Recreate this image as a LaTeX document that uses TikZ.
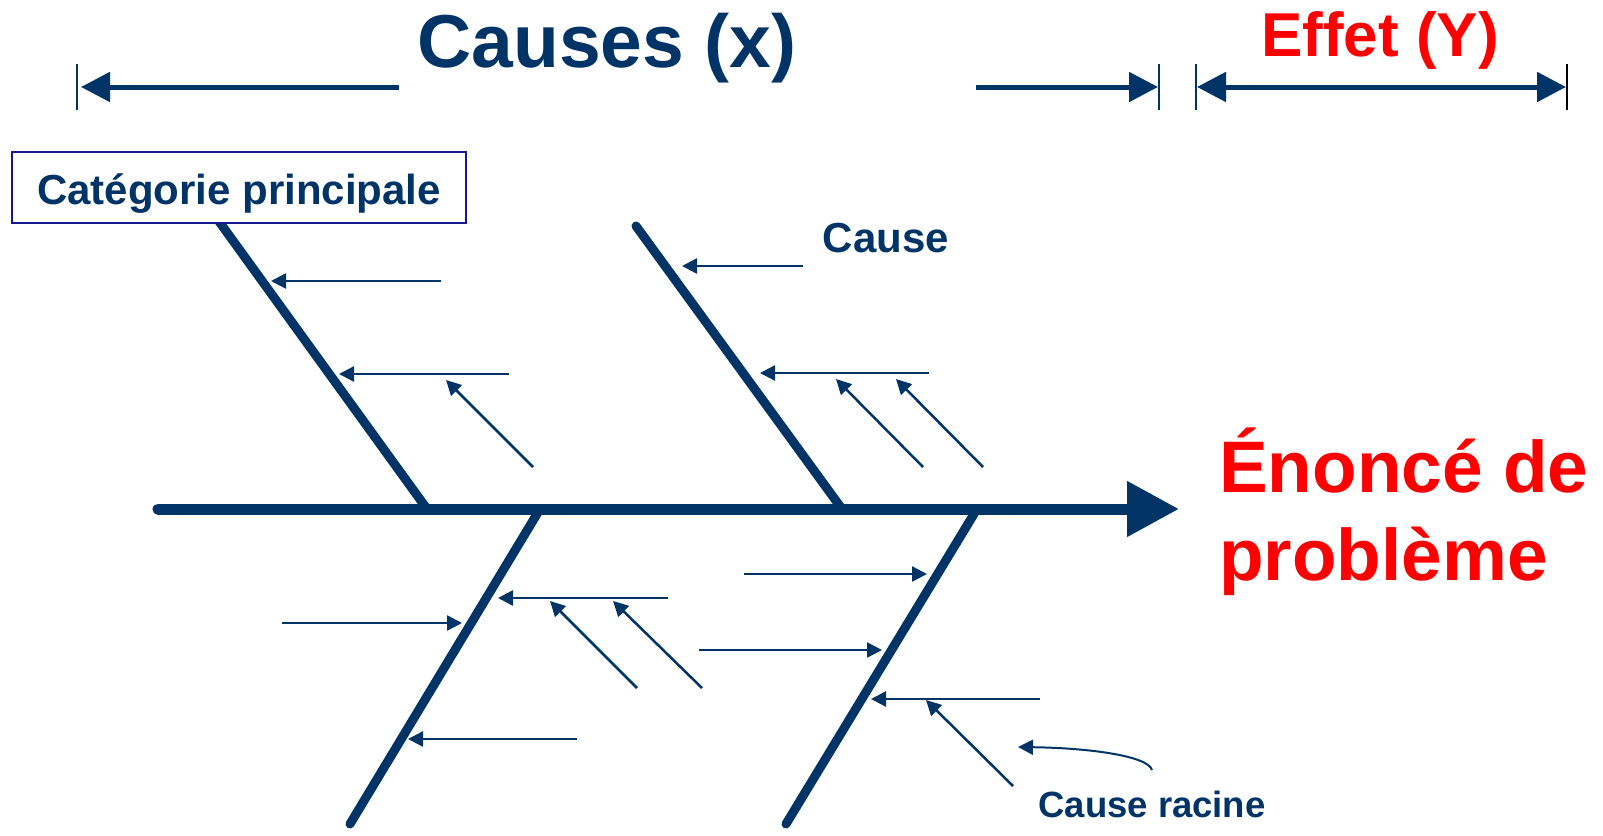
\documentclass[tikz,border=0pt]{standalone}
\usepackage{fontspec}
\setmainfont{Liberation Sans}
\usetikzlibrary{arrows.meta}
\definecolor{marine}{RGB}{0,51,102}
\definecolor{rouge}{RGB}{255,0,0}
\definecolor{cadre}{RGB}{24,24,140}
\begin{document}
\begin{tikzpicture}[
  x=1pt, y=-1pt,
  arete/.style={color=marine, line width=11pt, line cap=round, -{Triangle[length=52pt,width=53pt]}},
  os/.style={draw=marine, line width=9pt, line cap=round},
  fleche/.style={color=marine, line width=2.5pt, -{Triangle[length=15pt,width=15pt]}},
  cote/.style={color=marine, line width=5pt, >={Triangle[length=29pt,width=29pt]}},
  repere/.style={draw=marine, line width=2pt},
  titre/.style={inner sep=0pt, anchor=base, font=\bfseries\fontsize{75}{90}\selectfont},
  etiquette/.style={inner sep=0pt, anchor=base, text=marine, font=\bfseries\fontsize{42}{50}\selectfont}
]
\useasboundingbox (0,0) rectangle (1603,835);

% en-tete : causes et effet
\node[titre, text=marine] (causes) at (607,67) {Causes (x)};
\node[titre, text=rouge, font=\bfseries\fontsize{62}{74}\selectfont] (effet) at (1380,56) {Effet (Y)};
\foreach \n/\x in {1/77, 2/1159, 3/1196, 4/1567} {
  \coordinate (h\n) at (\x,64);
  \coordinate (b\n) at (\x,110);
}
\draw[repere] (h1) -- (b1);
\draw[repere] (h2) -- (b2);
\draw[repere] (h3) -- (b3);
\draw[repere, draw=black] (h4) -- (b4);
\coordinate (cg1) at (399,87);  \coordinate (cg2) at (81,87);
\coordinate (cd1) at (976,87);  \coordinate (cd2) at (1158,87);
\coordinate (ef1) at (1197,87); \coordinate (ef2) at (1566,87);
\draw[cote, ->] (cg1) -- (cg2);
\draw[cote, ->] (cd1) -- (cd2);
\draw[cote, <->] (ef1) -- (ef2);

% arete principale et os
\coordinate (queue) at (158,509);
\coordinate (tete) at (1179,509);
\draw[arete] (queue) -- (tete);
\coordinate (o1a) at (218,220); \coordinate (o1b) at (427,509);
\coordinate (o2a) at (636,226); \coordinate (o2b) at (842,509);
\coordinate (o3a) at (540,509); \coordinate (o3b) at (350,824);
\coordinate (o4a) at (977,509); \coordinate (o4b) at (786,824);
\foreach \n in {1,...,4}
  \draw[os] (o\n a) -- (o\n b);

% categorie principale
\node[draw=cadre, line width=2pt, fill=white, minimum width=454pt, minimum height=71pt,
  inner sep=0pt, text height=33pt, text depth=0pt, text=marine,
  font=\bfseries\fontsize{42}{50}\selectfont] (cat) at (239,187.5) {Catégorie principale};

% causes
\foreach \n/\xa/\ya/\xb/\yb in {
  1/441/281/271/281, 2/509/374/339/374, 3/533/467/446/380,
  4/803/266/682/266, 5/929/373/760/373, 6/923/467/836/379, 7/983/467/896/379,
  8/282/623/462/623, 9/668/598/498/598, 10/637/688/550/601, 11/702/688/613/601,
  12/577/739/408/739,
  13/744/574/927/574, 14/699/650/882/650, 15/1040/699/871/699, 16/1013/786/926/700} {
  \coordinate (d\n) at (\xa,\ya);
  \coordinate (f\n) at (\xb,\yb);
  \draw[fleche] (d\n) -- (f\n);
}
\coordinate (r1) at (1152,770);
\coordinate (r2) at (1018,747);
\draw[fleche, line width=2pt] (r1) .. controls (1148,756) and (1090,748) .. (r2);

% textes
\node[etiquette] (cause) at (886,252) {Cause};
\node[etiquette, font=\bfseries\fontsize{36.5}{44}\selectfont] (racine) at (1152,817) {Cause racine};
\node[inner sep=0pt, anchor=base west, align=left, text=rouge,
  font=\bfseries\fontsize{73}{88}\selectfont] (pb) at (1219,580) {Énoncé de\\problème};
\end{tikzpicture}
\end{document}
